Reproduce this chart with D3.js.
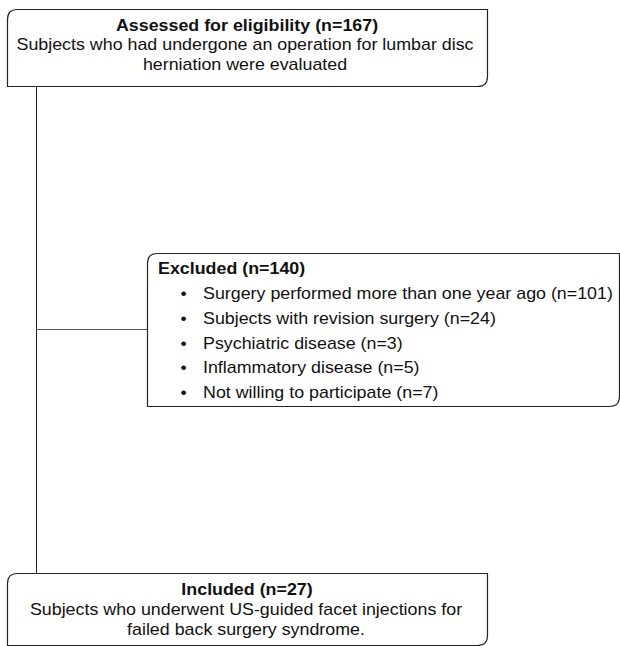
<!DOCTYPE html>
<html>
<head>
<meta charset="utf-8">
<script src="https://cdn.jsdelivr.net/npm/d3@7"></script>
<style>
  body { margin: 0; background: #fff; }
  text { font-family: "Liberation Sans", Arial, Helvetica, sans-serif; fill: #111; }
</style>
</head>
<body>
<div id="chart"></div>
<script>
// flow stages
var stageTitles = ["Assessed for eligibility", "Excluded", "Included"];
var stageCounts = [167, 140, 27];
var assessedText = ["Subjects who had undergone an operation for lumbar disc", "herniation were evaluated"];
var includedText = ["Subjects who underwent US-guided facet injections for", "failed back surgery syndrome."];

// exclusion reasons
var reasons = [
  "Surgery performed more than one year ago",
  "Subjects with revision surgery",
  "Psychiatric disease",
  "Inflammatory disease",
  "Not willing to participate"
];
var reasonCounts = [101, 24, 3, 5, 7];

var svgWidth = 620;
var svgHeight = 646;

var svg = d3.select("#chart")
  .append("svg")
  .attr("width", svgWidth)
  .attr("height", svgHeight);

// box with rounded top-left and bottom-right corners
function boxPath(x, y, w, h, r) {
  return "M" + (x + r) + "," + y +
    "H" + (x + w) +
    "V" + (y + h - r) +
    "Q" + (x + w) + "," + (y + h) + " " + (x + w - r) + "," + (y + h) +
    "H" + x +
    "V" + (y + r) +
    "Q" + x + "," + y + " " + (x + r) + "," + y + "Z";
}

var stroke = "#222";
var fs = 16;
var sx = 1.115; // the source text is a bit stretched sideways

// text helper, stretched horizontally around its anchor point
function label(x, y, str, anchor, bold) {
  return svg.append("text")
    .attr("transform", `translate(${x},${y}) scale(${sx},1)`)
    .attr("text-anchor", anchor || "start")
    .attr("font-size", fs)
    .attr("font-weight", bold ? "bold" : "normal")
    .text(str);
}

// connectors
svg.append("line")
  .attr("x1", 36.5).attr("x2", 36.5)
  .attr("y1", 86).attr("y2", 573)
  .attr("stroke", stroke).attr("stroke-width", 1);

svg.append("line")
  .attr("x1", 36).attr("x2", 147)
  .attr("y1", 329.5).attr("y2", 329.5)
  .attr("stroke", "#555").attr("stroke-width", 1);

// boxes
var boxes = [
  {x: 7.5, y: 9.5, w: 480, h: 77},
  {x: 147.5, y: 253.5, w: 472, h: 153},
  {x: 7.5, y: 573.5, w: 480, h: 72}
];

svg.selectAll("path.box")
  .data(boxes)
  .enter()
  .append("path")
  .attr("class", "box")
  .attr("d", d => boxPath(d.x, d.y, d.w, d.h, 10))
  .attr("fill", "#fff")
  .attr("stroke", stroke)
  .attr("stroke-width", 1.2);

// assessed box
label(247, 30.5, stageTitles[0] + " (n=" + stageCounts[0] + ")", "middle", true);
assessedText.forEach(function(t, i) {
  label(245, 50 + i * 20, t, "middle");
});

// excluded box
label(158, 274, stageTitles[1] + " (n=" + stageCounts[1] + ")", "start", true);

var yReason = d3.scaleBand()
  .domain(reasons)
  .range([285.5, 409.5]);

reasons.forEach(function(r, i) {
  var y = yReason(r) + yReason.bandwidth() / 2;
  label(180.5, y + 1, "\u2022", "start");
  label(203, y + 1, r + " (n=" + reasonCounts[i] + ")", "start");
});

// included box
label(247, 594.5, stageTitles[2] + " (n=" + stageCounts[2] + ")", "middle", true);
includedText.forEach(function(t, i) {
  label(246, 614.5 + i * 20, t, "middle");
});
</script>
</body>
</html>
